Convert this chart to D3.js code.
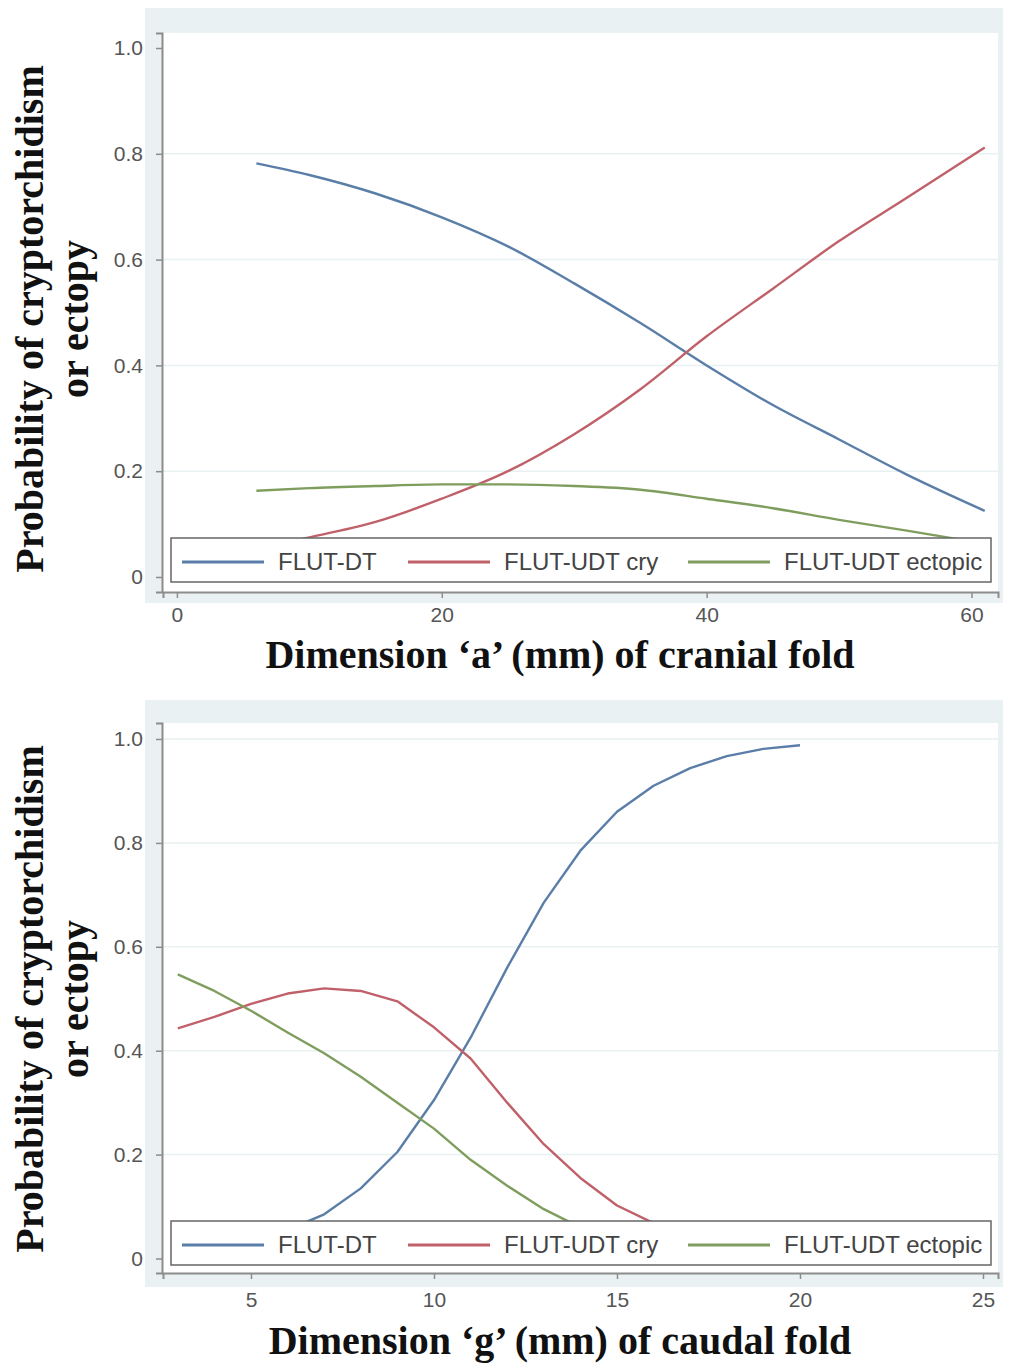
<!DOCTYPE html>
<html>
<head>
<meta charset="utf-8">
<title>Probability of cryptorchidism or ectopy</title>
<style>
  html, body {margin: 0; padding: 0; background: #ffffff;}
  svg {display: block;}
  .tick text {font-family: "Liberation Sans", Arial, sans-serif; fill: #555;}
  .title {font-family: "Liberation Serif", "Times New Roman", serif; font-weight: bold; fill: #111;}
  .legend text {font-family: "Liberation Sans", Arial, sans-serif; fill: #444;}
</style>
</head>
<body>
<div id="chart"></div>
<script src="https://cdn.jsdelivr.net/npm/d3@7"></script>
<script>
// series names + colours
var seriesNames = ["FLUT-DT", "FLUT-UDT cry", "FLUT-UDT ectopic"];
var seriesColors = ["#5a7ea8", "#c0616a", "#7f9e5e"];

// panel 1: dimension 'a' of cranial fold
var aX = [6, 10, 15, 20, 25, 30, 35, 40, 45, 50, 55, 61];
var aDT = [0.782, 0.76, 0.725, 0.68, 0.625, 0.555, 0.48, 0.40, 0.325, 0.26, 0.195, 0.125];
var aCry = [0.055, 0.075, 0.104, 0.148, 0.2, 0.27, 0.355, 0.455, 0.545, 0.635, 0.715, 0.812];
var aEct = [0.163, 0.168, 0.172, 0.175, 0.175, 0.172, 0.165, 0.148, 0.13, 0.108, 0.088, 0.063];
var aXTicks = [0, 20, 40, 60];

// panel 2: dimension 'g' of caudal fold
var gX = [3, 4, 5, 6, 7, 8, 9, 10, 11, 12, 13, 14, 15, 16, 17, 18, 19, 20];
var gDT = [0.01, 0.02, 0.033, 0.055, 0.085, 0.135, 0.205, 0.305, 0.425, 0.56, 0.685, 0.785, 0.86, 0.91, 0.944, 0.967, 0.981, 0.988];
var gCry = [0.443, 0.465, 0.49, 0.51, 0.52, 0.515, 0.495, 0.445, 0.385, 0.30, 0.22, 0.155, 0.102, 0.068, 0.043, 0.025, 0.014, 0.009];
var gEct = [0.547, 0.515, 0.477, 0.435, 0.395, 0.35, 0.30, 0.25, 0.19, 0.14, 0.095, 0.06, 0.038, 0.022, 0.013, 0.008, 0.005, 0.003];
var gXTicks = [5, 10, 15, 20, 25];

var yTicks = [0, 0.2, 0.4, 0.6, 0.8, 1.0];

var width = 1009, height = 1365;

var svg = d3.select("#chart").append("svg")
    .attr("width", width)
    .attr("height", height);

drawPanel({
    bg: [8, 603], plot: [33, 592], legendTop: 538, xTitleY: 668, yTitleMid: 319,
    tickPad: 9,
    xDomain: [-1.05, 62.0],
    yDomain: [-0.0284, 1.0284],
    xs: aX,
    series: [aDT, aCry, aEct],
    xTicks: aXTicks,
    gridTicks: [0.2, 0.4, 0.6, 0.8],
    curve: d3.curveMonotoneX,
    xTitle: "Dimension \u2018a\u2019 (mm) of cranial fold"
});

drawPanel({
    bg: [700, 1287], plot: [723, 1273], legendTop: 1221, xTitleY: 1354, yTitleMid: 999,
    tickPad: 13,
    xDomain: [2.596, 25.41],
    yDomain: [-0.0279, 1.0308],
    xs: gX,
    series: [gDT, gCry, gEct],
    xTicks: gXTicks,
    gridTicks: [0.2, 0.4, 0.6, 0.8, 1.0],
    curve: d3.curveLinear,
    xTitle: "Dimension \u2018g\u2019 (mm) of caudal fold"
});

function drawPanel(cfg) {
    var g = svg.append("g");

    var left = 163, right = 998, plotTop = cfg.plot[0], plotBottom = cfg.plot[1];

    // outer region (light bluish gray) + white plot region
    g.append("rect")
        .attr("x", 145).attr("y", cfg.bg[0])
        .attr("width", 858).attr("height", cfg.bg[1] - cfg.bg[0])
        .attr("fill", "#eaf1f3");
    g.append("rect")
        .attr("x", left).attr("y", plotTop)
        .attr("width", right - left).attr("height", plotBottom - plotTop)
        .attr("fill", "#ffffff");

    var x = d3.scaleLinear().domain(cfg.xDomain).range([left, right]);
    var y = d3.scaleLinear().domain(cfg.yDomain).range([plotBottom, plotTop]);

    // gridlines
    g.selectAll(".grid")
        .data(cfg.gridTicks)
      .enter().append("line")
        .attr("class", "grid")
        .attr("x1", left).attr("x2", right)
        .attr("y1", function(d) { return y(d); })
        .attr("y2", function(d) { return y(d); })
        .attr("stroke", "#e8f1f1")
        .attr("stroke-width", 1.5);

    // curves
    var clipId = "clip" + plotTop;
    g.append("clipPath").attr("id", clipId)
      .append("rect")
        .attr("x", left).attr("y", plotTop)
        .attr("width", right - left).attr("height", plotBottom - plotTop);

    var line = d3.line()
        .x(function(d) { return x(d[0]); })
        .y(function(d) { return y(d[1]); })
        .curve(cfg.curve);

    cfg.series.forEach(function(vals, i) {
        g.append("path")
            .attr("clip-path", "url(#" + clipId + ")")
            .attr("d", line(cfg.xs.map(function(v, j) { return [v, vals[j]]; })))
            .attr("fill", "none")
            .attr("stroke", seriesColors[i])
            .attr("stroke-width", 2.4)
            .attr("stroke-linejoin", "round");
    });

    // axes
    var yAxis = d3.axisLeft(y)
        .tickValues(yTicks)
        .tickSize(6)
        .tickPadding(13)
        .tickFormat(function(d) { return d === 0 ? "0" : d3.format(".1f")(d); });
    var xAxis = d3.axisBottom(x)
        .tickValues(cfg.xTicks)
        .tickSize(6)
        .tickPadding(cfg.tickPad)
        .tickFormat(d3.format("d"));

    var ya = g.append("g").attr("transform", "translate(" + (left - 1) + ",0)").call(yAxis);
    var xa = g.append("g").attr("transform", "translate(0," + plotBottom + ")").call(xAxis);

    [ya, xa].forEach(function(a) {
        a.select(".domain").attr("stroke", "#8c8c8c").attr("stroke-width", 2);
        a.selectAll(".tick line").attr("stroke", "#8c8c8c").attr("stroke-width", 1.5);
        a.selectAll(".tick text").style("font-size", "21px");
    });

    // legend box
    var lt = cfg.legendTop;
    var lg = g.append("g").attr("class", "legend");
    lg.append("rect")
        .attr("x", 171).attr("y", lt)
        .attr("width", 820).attr("height", 44)
        .attr("fill", "#ffffff")
        .attr("stroke", "#666")
        .attr("stroke-width", 1.5);

    var itemX = [182, 408, 688];
    seriesNames.forEach(function(name, i) {
        lg.append("line")
            .attr("x1", itemX[i]).attr("x2", itemX[i] + 82)
            .attr("y1", lt + 24).attr("y2", lt + 24)
            .attr("stroke", seriesColors[i])
            .attr("stroke-width", 3);
        lg.append("text")
            .attr("x", itemX[i] + 96)
            .attr("y", lt + 32)
            .style("font-size", "24px")
            .text(name);
    });

    // titles
    g.append("text")
        .attr("class", "title")
        .attr("x", 560).attr("y", cfg.xTitleY)
        .attr("text-anchor", "middle")
        .style("font-size", "40px")
        .text(cfg.xTitle);

    var yt = g.append("text")
        .attr("class", "title")
        .attr("transform", "translate(0," + cfg.yTitleMid + ") rotate(-90)")
        .attr("text-anchor", "middle")
        .style("font-size", "40px");
    yt.append("tspan").attr("x", 0).attr("y", 43).text("Probability of cryptorchidism");
    yt.append("tspan").attr("x", 0).attr("y", 88).text("or ectopy");
}
</script>
</body>
</html>
